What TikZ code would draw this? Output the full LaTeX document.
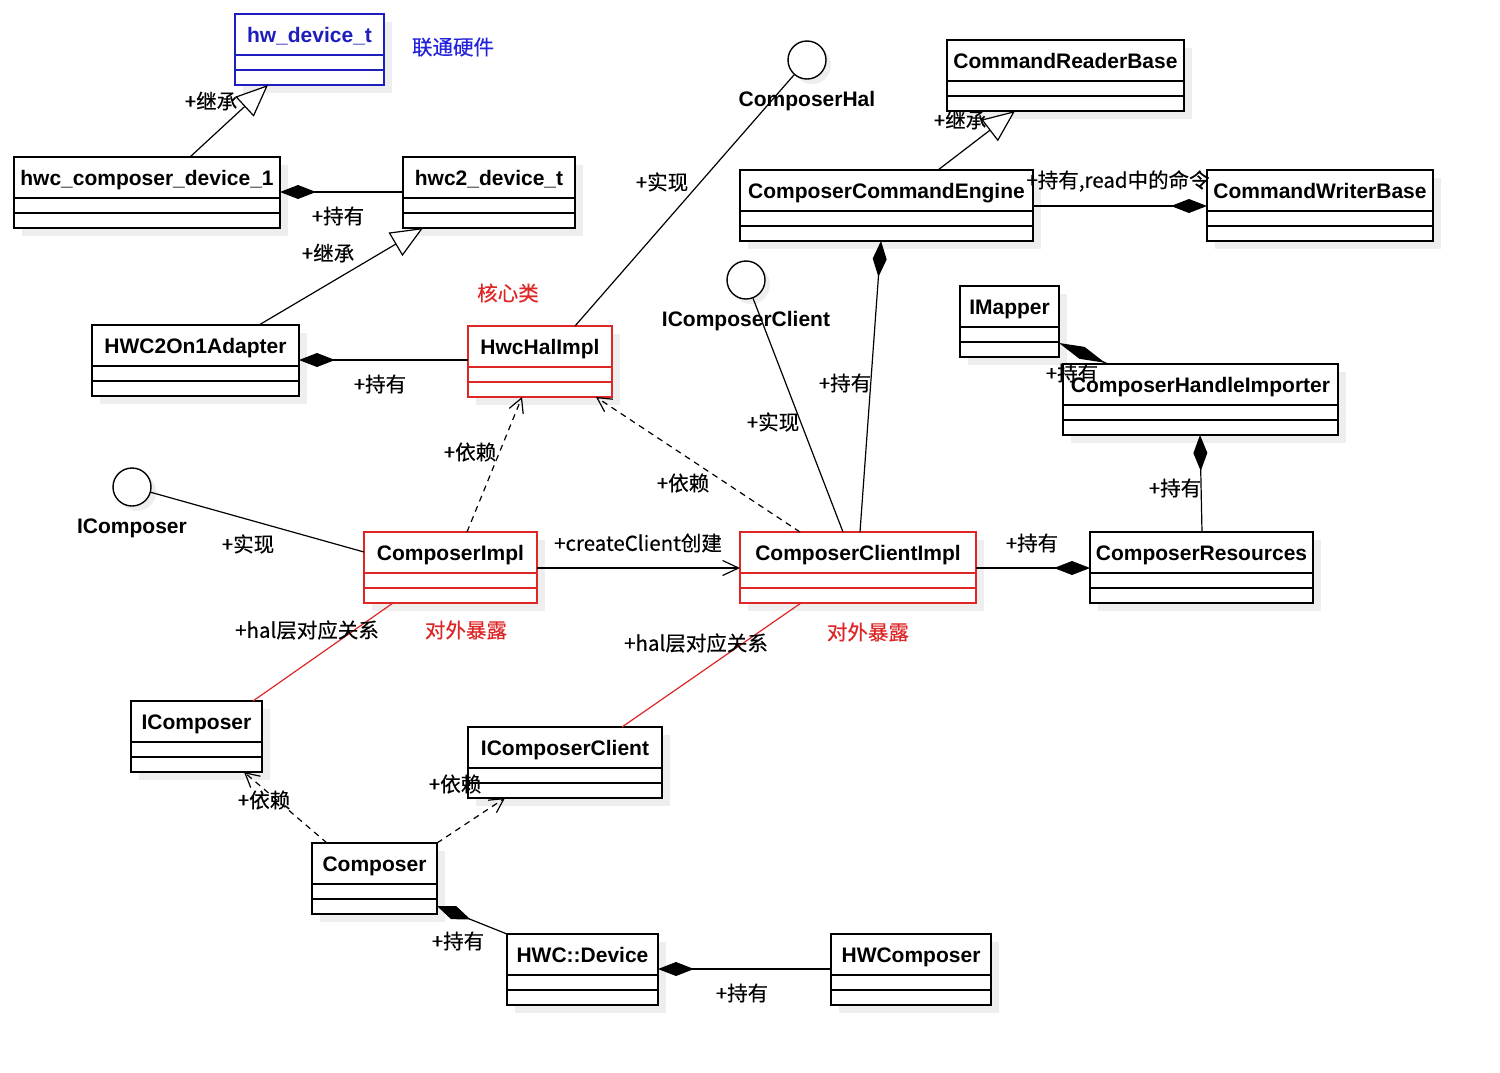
\documentclass[tikz,border=0pt]{standalone}
\usepackage{fontspec}
\setmainfont{Liberation Sans}
\newfontfamily\cjkf[FakeBold=0.4]{Noto Sans CJK SC}
\usetikzlibrary{arrows.meta,calc}
\definecolor{umlred}{RGB}{222,38,38}
\definecolor{umlblue}{RGB}{30,30,190}
\definecolor{lblblue}{RGB}{35,35,220}
\definecolor{shadowc}{RGB}{238,238,238}
\tikzset{
  clsfont/.style={font=\fontsize{21}{24}\selectfont\bfseries},
  lbl/.style={font=\cjkf\fontsize{20.5}{23}\selectfont, inner sep=0},
  conn/.style={line width=1.2pt},
  dep/.style={conn, dash pattern=on 6pt off 5pt, -{Straight Barb[length=14pt,width=15pt]}},
  assoc/.style={conn, -{Straight Barb[length=16pt,width=15pt]}},
  inh/.style={conn, -{Triangle[open,length=32pt,width=27pt,fill=white]}},
  comp/.style={conn, {Diamond[length=36pt,width=14pt]}-},
  halrel/.style={line width=1.2pt, umlred},
}
% name, x1, y1, x2, border colour, text colour, title
\newcommand\umlbox[7]{%
  \fill[shadowc] (#2+8,#3+8) rectangle (#4+8,#3+79);
  \node[draw=#5, line width=1.6pt, fill=white, inner sep=0, outer sep=0,
        minimum width=#4-#2, minimum height=71, anchor=north west] (#1) at (#2,#3) {};
  \draw[#5, line width=1.6pt] ($(#1.north west)+(0,41)$) -- ($(#1.north east)+(0,41)$);
  \draw[#5, line width=1.6pt] ($(#1.north west)+(0,56)$) -- ($(#1.north east)+(0,56)$);
  \node[clsfont, text=#6, anchor=base] (#1-t) at ($(#1.north)+(0,28)$) {#7};
}
% name, cx, cy, label
\newcommand\umliface[4]{%
  \fill[shadowc] (#2+5,#3+5) circle (19);
  \node[circle, draw, line width=1.4pt, fill=white, minimum size=38, inner sep=0] (#1) at (#2,#3) {};
  \node[clsfont, anchor=base] (#1-l) at (#2,#3+46) {#4};
}
\begin{document}
\begin{tikzpicture}[x=1pt,y=-1pt]
\useasboundingbox[fill=white] (0,0) rectangle (1500,1072);

% classes
\umlbox{hwdev}{235}{14}{384}{umlblue}{umlblue}{hw\_device\_t}
\umlbox{hwc1}{14}{157}{280}{black}{black}{hwc\_composer\_device\_1}
\umlbox{hwc2}{403}{157}{575}{black}{black}{hwc2\_device\_t}
\umlbox{adapter}{92}{325}{299}{black}{black}{HWC2On1Adapter}
\umlbox{hal}{468}{326}{612}{umlred}{black}{HwcHalImpl}
\umlbox{crb}{947}{40}{1184}{black}{black}{CommandReaderBase}
\umlbox{cce}{740}{170}{1033}{black}{black}{ComposerCommandEngine}
\umlbox{cwb}{1207}{170}{1433}{black}{black}{CommandWriterBase}
\umlbox{imapper}{960}{286}{1059}{black}{black}{IMapper}
\umlbox{chi}{1063}{364}{1338}{black}{black}{ComposerHandleImporter}
\umlbox{cimpl}{364}{532}{537}{umlred}{black}{ComposerImpl}
\umlbox{cci}{740}{532}{976}{umlred}{black}{ComposerClientImpl}
\umlbox{cres}{1090}{532}{1313}{black}{black}{ComposerResources}
\umlbox{icbox}{131}{701}{262}{black}{black}{IComposer}
\umlbox{iccbox}{468}{727}{662}{black}{black}{IComposerClient}
\umlbox{composer}{312}{843}{437}{black}{black}{Composer}
\umlbox{hwcdev}{507}{934}{658}{black}{black}{HWC::Device}
\umlbox{hwcomp}{831}{934}{991}{black}{black}{HWComposer}

% interfaces
\umliface{chal}{807}{60}{ComposerHal}
\umliface{icc}{746}{280}{IComposerClient}
\umliface{ic}{132}{487}{IComposer}

% connectors
\draw[inh] ($(hwc1.north west)+(176,0)$) -- ($(hwdev.south west)+(33,0)$);
\draw[comp] ($(hwc1.north east)+(0,35)$) -- ($(hwc2.north west)+(0,35)$);
\draw[inh] ($(adapter.north west)+(167,0)$) -- ($(hwc2.south west)+(20,0)$);
\draw[comp] ($(adapter.north east)+(0,35)$) -- ($(hal.north west)+(0,34)$);
\draw[conn] ($(hal.north west)+(107,0)$) -- (chal);
\draw[dep] ($(cimpl.north west)+(103,0)$) -- ($(hal.south west)+(54,0)$);
\draw[dep] ($(cci.north west)+(60,0)$) -- ($(hal.south west)+(128,0)$);
\draw[conn] ($(cimpl.north west)+(0,20)$) -- (ic);
\draw[assoc] ($(cimpl.north east)+(0,36)$) -- ($(cci.north west)+(0,36)$);
\draw[conn] ($(cci.north west)+(103,0)$) -- (icc);
\draw[comp] ($(cce.south west)+(141,0)$) -- ($(cci.north west)+(120,0)$);
\draw[inh] ($(cce.north west)+(198,0)$) -- ($(crb.south west)+(68,0)$);
\draw[conn, -{Diamond[length=36pt,width=14pt]}] ($(cce.north east)+(0,36)$) -- ($(cwb.north west)+(0,36)$);
\draw[conn, {Diamond[length=50pt,width=13pt]}-] ($(imapper.north east)+(0,57)$) -- ($(chi.north west)+(45,0)$);
\draw[comp] ($(chi.south west)+(137,0)$) -- ($(cres.north west)+(112,0)$);
\draw[conn, -{Diamond[length=36pt,width=14pt]}] ($(cci.north east)+(0,36)$) -- ($(cres.north west)+(0,36)$);
\draw[halrel] ($(cimpl.south west)+(29,0)$) -- ($(icbox.north west)+(122,0)$);
\draw[halrel] ($(cci.south west)+(61,0)$) -- ($(iccbox.north west)+(154,0)$);
\draw[dep] ($(composer.north west)+(15,0)$) -- ($(icbox.south west)+(113,0)$);
\draw[dep] (composer.north east) -- ($(iccbox.south west)+(37,0)$);
\draw[comp] ($(composer.north east)+(0,63)$) -- (hwcdev.north west);
\draw[comp] ($(hwcdev.north east)+(0,35)$) -- ($(hwcomp.north west)+(0,35)$);

% labels
\node[lbl] (l1) at (211,101) {+继承};
\node[lbl] (l2) at (338,216) {+持有};
\node[lbl] (l3) at (328,253) {+继承};
\node[lbl] (l4) at (380,384) {+持有};
\node[lbl] (l5) at (662,182) {+实现};
\node[lbl] (l6) at (470,452) {+依赖};
\node[lbl] (l7) at (683,483) {+依赖};
\node[lbl] (l8) at (248,544) {+实现};
\node[lbl] (l9) at (638,543) {+createClient创建};
\node[lbl] (l10) at (773,422) {+实现};
\node[lbl] (l11) at (845,383) {+持有};
\node[lbl] (l12) at (960,120) {+继承};
\node[lbl] (l13) at (1118,181) {+持有,read中的命令};
\node[lbl] (l14) at (1072,373) {+持有};
\node[lbl] (l15) at (1175,488) {+持有};
\node[lbl] (l16) at (1032,543) {+持有};
\node[lbl] (l17) at (307,630) {+hal层对应关系};
\node[lbl, text=umlred] (l18) at (466,630) {对外暴露};
\node[lbl] (l19) at (696,643) {+hal层对应关系};
\node[lbl, text=umlred] (l20) at (868,632) {对外暴露};
\node[lbl] (l21) at (264,800) {+依赖};
\node[lbl] (l22) at (455,784) {+依赖};
\node[lbl] (l23) at (458,941) {+持有};
\node[lbl] (l24) at (742,993) {+持有};
\node[lbl, text=lblblue] (l25) at (453,47) {联通硬件};
\node[lbl, text=umlred] (l26) at (508,293) {核心类};
\end{tikzpicture}
\end{document}
